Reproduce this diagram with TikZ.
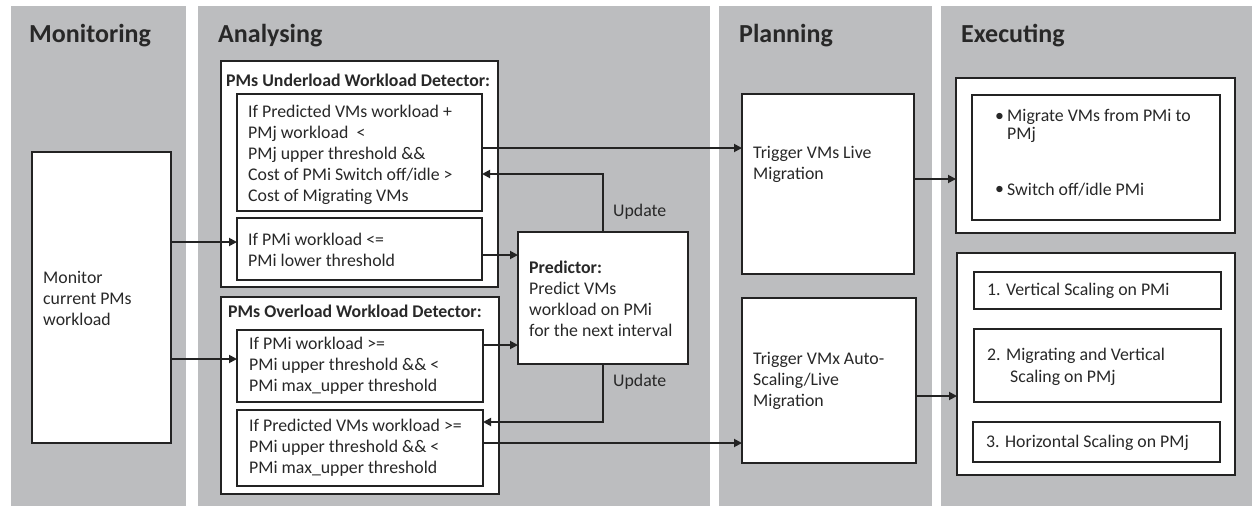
\documentclass[tikz,border=0pt]{standalone}
\usepackage{fontspec}
\setmainfont{Carlito}
\usetikzlibrary{arrows.meta}
\definecolor{panelgray}{RGB}{188,189,191}
\definecolor{linecol}{RGB}{35,35,35}
\definecolor{textcol}{RGB}{40,40,40}
\newcommand\bodyfont{\fontsize{17.8}{21}\selectfont}
\newcommand\titlefont{\fontsize{26}{30}\selectfont\bfseries}
\newcommand\mybox[5]{%
  \pgfmathsetmacro\bw{#4-#2}\pgfmathsetmacro\bh{#5-#3}%
  \node[box,minimum width=\bw pt,minimum height=\bh pt,anchor=north west] (#1) at (#2,#3) {};}
\tikzset{
  panel/.style={fill=panelgray,draw=none},
  box/.style={draw=linecol,line width=1.8pt,fill=white,inner sep=0pt,outer sep=0pt},
  txt/.style={anchor=west,inner sep=0pt,align=left,text=textcol,font=\bodyfont},
  ttl/.style={anchor=west,inner sep=0pt,text=textcol,font=\titlefont},
  arr/.style={draw=linecol,line width=1.8pt,-{Triangle[length=8pt,width=8pt]}},
}
\begin{document}
\begin{tikzpicture}[x=1pt,y=-1pt]
\useasboundingbox (0,0) rectangle (1252,506);
% panels
\fill[panel] (11,6) rectangle (186,506);
\fill[panel] (198,6) rectangle (710,506);
\fill[panel] (719,6) rectangle (932,506);
\fill[panel] (941,6) rectangle (1252,506);
% titles
\node[ttl] (tmon) at (29,36) {Monitoring};
\node[ttl] (tana) at (218,36) {Analysing};
\node[ttl] (tpla) at (739,36) {Planning};
\node[ttl] (texe) at (961,36) {Executing};
% boxes
\mybox{mon}{32}{152}{171}{443}
\mybox{under}{221}{61}{498}{287}
\mybox{u1}{237}{94}{482}{211}
\mybox{u2}{237}{218}{482}{280}
\mybox{over}{221}{297}{499}{494}
\mybox{o1}{237}{330}{483}{402}
\mybox{o2}{237}{410}{483}{486}
\mybox{pred}{518}{232}{688}{364}
\mybox{t1}{742}{94}{914}{274}
\mybox{t2}{742}{298}{916}{463}
\mybox{e1}{956}{78}{1235}{233}
\mybox{e1i}{972}{95}{1220}{220}
\mybox{e2}{957}{253}{1235}{475}
\mybox{e2a}{974}{272}{1221}{309}
\mybox{e2b}{974}{329}{1221}{402}
\mybox{e2c}{973}{422}{1220}{462}
% texts
\node[txt] (xmon) at (43,298) {Monitor\\current PMs\\workload};
\node[txt,font=\bodyfont\bfseries] (xunder) at (226,80) {PMs Underload Workload Detector:};
\node[txt] (xu1) at (248,154.5) {If Predicted VMs workload +\\PMj workload~ <\\PMj upper threshold \&\&\\Cost of PMi Switch off/idle >\\Cost of Migrating VMs};
\node[txt] (xu2) at (248,249.5) {If PMi workload <=\\PMi lower threshold};
\node[txt,font=\bodyfont\bfseries] (xover) at (228,311) {PMs Overload Workload Detector:};
\node[txt] (xo1) at (249,366) {If PMi workload >=\\PMi upper threshold \&\& <\\PMi max\_upper threshold};
\node[txt] (xo2) at (249,448) {If Predicted VMs workload >=\\PMi upper threshold \&\& <\\PMi max\_upper threshold};
\node[txt] (xpred) at (529,299) {\textbf{Predictor:}\\Predict VMs\\workload on PMi\\for the next interval};
\node[txt] (upd1) at (613,212) {Update};
\node[txt] (upd2) at (613,382) {Update};
\node[txt] (xt1) at (753,164.5) {Trigger VMs Live\\Migration};
\node[txt] (xt2) at (753,380.5) {Trigger VMx Auto-\\Scaling/Live\\Migration};
\node[txt] (b1) at (995,117) {\textbullet};
\node[txt,font=\fontsize{17.8}{18.5}\selectfont] (xe1) at (1007,126) {Migrate VMs from PMi to\\PMj};
\node[txt] (b2) at (995,190) {\textbullet};
\node[txt] (xe2) at (1007,190) {Switch off/idle PMi};
\node[txt] (xe2a) at (987,291) {1. Vertical Scaling on PMi};
\node[txt,font=\fontsize{17.8}{22}\selectfont] (xe2b) at (987,367) {2. Migrating and Vertical\\\hspace*{23pt}Scaling on PMj};
\node[txt] (xe2c) at (986,443) {3. Horizontal Scaling on PMj};
% connector anchor points
\coordinate (m1) at ([yshift=7pt]u2.west);
\coordinate (m2) at ([yshift=7pt]o1.west);
\coordinate (a1) at ([yshift=4.5pt]u1.east);
\coordinate (c1) at ([yshift=-21.5pt]u1.east);
\coordinate (c2) at ([yshift=-6pt]u2.east);
\coordinate (c3) at ([yshift=21pt]o1.east);
\coordinate (c4) at ([yshift=26pt]o2.east);
\coordinate (c5) at ([yshift=5pt]o2.east);
\coordinate (c6) at ([yshift=5pt]t1.east);
\coordinate (c7) at ([yshift=-15.5pt]t2.east);
% connectors
\draw[arr] (m1 -| mon.east) -- (m1);
\draw[arr] (m2 -| mon.east) -- (m2);
\draw[arr] (a1) -- (a1 -| t1.west);
\draw[arr] (pred.north) |- (c1);
\draw[arr] (c2) -- (c2 -| pred.west);
\draw[arr] (c3) -- (c3 -| pred.west);
\draw[arr] (pred.south) |- (c4);
\draw[arr] (c5) -- (c5 -| t2.west);
\draw[arr] (c6) -- (c6 -| e1.west);
\draw[arr] (c7) -- (c7 -| e2.west);
\end{tikzpicture}
\end{document}
